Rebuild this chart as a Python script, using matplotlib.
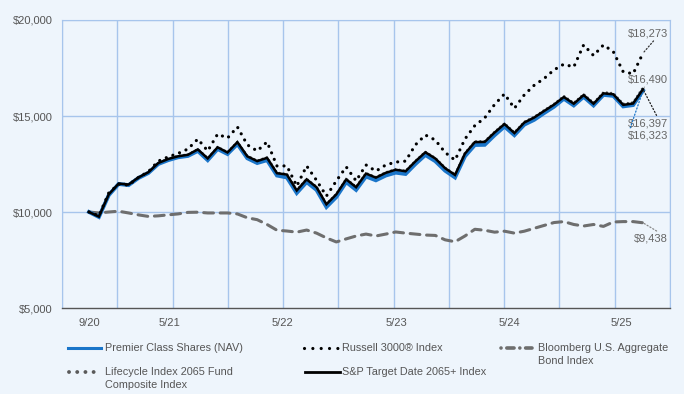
import numpy as np
import matplotlib
matplotlib.use("Agg")
import matplotlib.pyplot as plt
from matplotlib.lines import Line2D

plt.rcParams["font.family"] = ["Liberation Sans", "DejaVu Sans"]

# monthly growth of $10,000, 9/20 .. 5/25
premier = [10000, 9740, 10880, 11460, 11400, 11770, 12030, 12500, 12700, 12850,
           12920, 13180, 12700, 13280, 13020, 13540, 12800, 12550, 12700, 11900,
           11800, 10990, 11560, 11150, 10260, 10780, 11560, 11150, 11850, 11650,
           11900, 12050, 11980, 12500, 12970, 12650, 12150, 11800, 12900, 13490,
           13500, 14000, 14450, 14000, 14550, 14800, 15150, 15480, 15900, 15550,
           16000, 15550, 16100, 16050, 15500, 15570, 16323]
russell = [10000, 9800, 11000, 11450, 11400, 11800, 12100, 12650, 12870, 13050,
           13280, 13800, 13180, 14060, 13850, 14430, 13500, 13180, 13650, 12400,
           12400, 11350, 12400, 11650, 10830, 11620, 12350, 11620, 12450, 12130,
           12450, 12600, 12650, 13500, 14010, 13750, 13100, 12700, 13800, 14500,
           14900, 15600, 16150, 15400, 16100, 16600, 16950, 17400, 17700, 17550,
           18700, 18150, 18700, 18350, 17300, 17200, 18273]
bloomberg = [10000, 9950, 10000, 10040, 9950, 9850, 9770, 9800, 9850, 9900,
             9980, 9990, 9950, 9950, 9950, 9900, 9700, 9600, 9350, 9050,
             9010, 8950, 9060, 8900, 8650, 8440, 8600, 8750, 8850, 8750,
             8850, 8960, 8900, 8850, 8800, 8780, 8550, 8450, 8750, 9100,
             9050, 8950, 9000, 8900, 9000, 9150, 9300, 9450, 9500, 9350,
             9270, 9350, 9250, 9480, 9500, 9500, 9438]
lifecycle = [10000, 9770, 10930, 11500, 11450, 11820, 12090, 12570, 12780, 12930,
             13000, 13280, 12810, 13390, 13120, 13660, 12930, 12680, 12850, 12050,
             11980, 11150, 11730, 11320, 10430, 10950, 11730, 11320, 12030, 11820,
             12070, 12230, 12150, 12670, 13140, 12820, 12310, 11960, 13080, 13680,
             13690, 14180, 14620, 14150, 14700, 14960, 15300, 15630, 16040, 15690,
             16140, 15690, 16240, 16190, 15640, 15710, 16490]
sp_target = [10000, 9760, 10920, 11480, 11430, 11800, 12070, 12550, 12760, 12900,
             12980, 13260, 12790, 13370, 13100, 13640, 12900, 12650, 12820, 12020,
             11950, 11120, 11700, 11290, 10400, 10920, 11700, 11290, 12000, 11790,
             12040, 12200, 12120, 12640, 13110, 12790, 12280, 11930, 13040, 13640,
             13650, 14140, 14580, 14110, 14660, 14920, 15260, 15590, 15990, 15640,
             16090, 15640, 16180, 16130, 15580, 15650, 16397]

x_labels = ["9/20", "5/21", "5/22", "5/23", "5/24", "5/25"]
x_label_pos = [0, 8.1, 19.6, 31.1, 42.5, 53.8]
y_ticks = [5000, 10000, 15000, 20000]

BG = "#EEF5FC"
GRID = "#A7C5EC"
BLUE = "#1A75C9"
TXT = "#555555"

x = np.arange(len(premier))
pad = 2.73

fig = plt.figure(figsize=(6.84, 3.94), dpi=100, facecolor=BG)
ax = fig.add_axes([62 / 684, 1 - 308 / 394, 608 / 684, 288 / 394])
ax.set_facecolor(BG)

ax.set_xlim(-pad, len(x) - 1 + pad)
ax.set_ylim(5000, 20000)

# grid
for gx in np.linspace(-pad, len(x) - 1 + pad, 12):
    ax.axvline(gx, color=GRID, lw=1.0, zorder=0)
for gy in y_ticks[1:]:
    ax.axhline(gy, color=GRID, lw=1.0, zorder=0)

for s in ["left", "right", "top"]:
    ax.spines[s].set_color(GRID)
ax.spines["bottom"].set_color("#555555")
ax.spines["bottom"].set_linewidth(1.0)

ax.set_yticks(y_ticks)
ax.set_yticklabels([f"${v:,}" for v in y_ticks])
ax.set_xticks(x_label_pos)
ax.set_xticklabels(x_labels)
ax.tick_params(axis="both", length=0, labelsize=8, labelcolor=TXT)
ax.tick_params(axis="y", pad=7)
ax.tick_params(axis="x", pad=7)

# series
ax.plot(x, bloomberg, color="#6E6E6E", lw=2.2, linestyle=(0, (3.2, 2.2)),
        dash_capstyle="round", zorder=2)
ax.plot(x, lifecycle, color="#4D4D4D", lw=1.7, linestyle=(0, (0.01, 1.8)),
        dash_capstyle="round", zorder=2)
ax.plot(x, premier, color=BLUE, lw=2.8, solid_joinstyle="miter", zorder=3)
ax.plot(x, sp_target, color="black", lw=1.8, solid_joinstyle="miter", zorder=4)
ax.plot(x, russell, color="black", lw=2.3, linestyle=(0, (0.01, 2.2)),
        dash_capstyle="round", zorder=5)

# end labels
last = len(x) - 1
def end_label(val, dx, dy, color, relpos):
    ax.annotate(f"${val:,}", xy=(last, val), xytext=(dx, dy),
                textcoords="offset pixels", ha="right", va="center",
                fontsize=8, color="#666666", annotation_clip=False,
                arrowprops=dict(arrowstyle="-", linestyle=":", lw=0.9,
                                color=color, relpos=relpos,
                                shrinkA=0, shrinkB=1))

end_label(russell[-1], 25, 20, "#333333", (0.7, 0.0))
end_label(lifecycle[-1], 25, 8, "#888888", (0.85, 0.0))
end_label(sp_target[-1], 25, -34, "#222222", (0.75, 1.0))
end_label(premier[-1], 25, -45, BLUE, (0.0, 0.5))
end_label(bloomberg[-1], 25, -16, "#888888", (0.8, 1.0))

# legend drawn in a pixel-space overlay
lg = fig.add_axes([0, 0, 1, 1], facecolor="none")
lg.set_xlim(0, 684)
lg.set_ylim(394, 0)
lg.axis("off")

fs = 7.8
lg.add_line(Line2D([68, 101], [348, 348], color=BLUE, lw=2.2))
lg.text(105, 348, "Premier Class Shares (NAV)", fontsize=fs, color=TXT, va="center")

lg.add_line(Line2D([304, 338], [348, 348], color="black", lw=2.3,
                   linestyle=(0, (0.01, 2.6)), dash_capstyle="round"))
lg.text(342, 348, "Russell 3000® Index", fontsize=fs, color=TXT, va="center")

lg.add_line(Line2D([501, 532], [348, 348], color="#6E6E6E", lw=2.6,
                   linestyle=(0, (0.01, 1.6, 2.0, 1.6)), dash_capstyle="round"))
lg.text(538, 348, "Bloomberg U.S. Aggregate\nBond Index", fontsize=fs, color=TXT,
        va="top", linespacing=1.35)

lg.add_line(Line2D([69, 100], [372, 372], color="#5A5A5A", lw=2.8,
                   linestyle=(0, (0.01, 2.1)), dash_capstyle="round"))
lg.text(105, 372, "Lifecycle Index 2065 Fund\nComposite Index", fontsize=fs,
        color=TXT, va="top", linespacing=1.35)

lg.add_line(Line2D([305, 340], [372, 372], color="black", lw=2.0))
lg.text(342, 372, "S&P Target Date 2065+ Index", fontsize=fs, color=TXT, va="center")

# va="top" texts: shift so the first line centers on the row
for t in lg.texts:
    if t.get_va() == "top":
        t.set_y(t.get_position()[1] - 5)

fig.savefig("out.png", dpi=100, facecolor=BG)
